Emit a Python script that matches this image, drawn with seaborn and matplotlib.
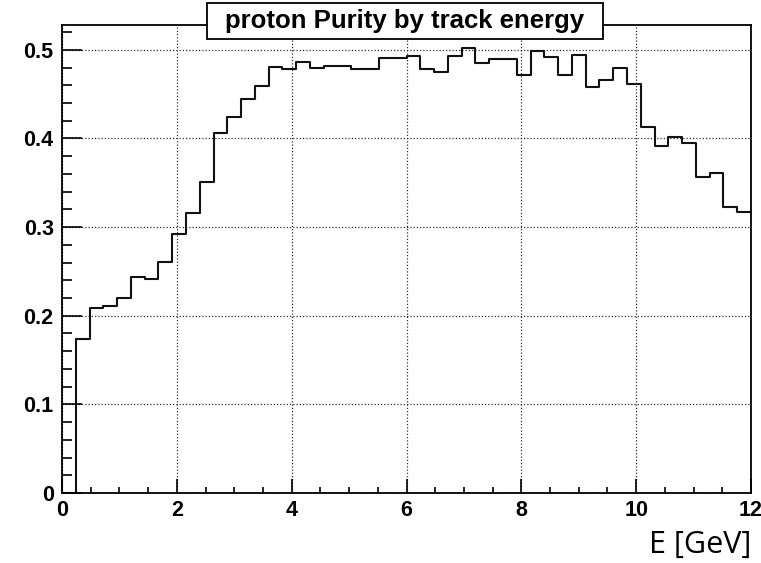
import numpy as np
import pandas as pd
import matplotlib
matplotlib.use("Agg")
import matplotlib.pyplot as plt
from matplotlib.patches import Rectangle
from matplotlib.ticker import MultipleLocator, FuncFormatter
import seaborn as sns

# ---- data (50 bins of width 0.24 from 0 to 12) ----
bin_edges = [round(0.24 * i, 2) for i in range(51)]
purity = [
    0.000, 0.174, 0.209, 0.211, 0.220, 0.244, 0.241, 0.261, 0.292, 0.316,
    0.351, 0.406, 0.424, 0.445, 0.459, 0.481, 0.4785, 0.486, 0.480, 0.4815,
    0.4815, 0.4785, 0.4785, 0.491, 0.491, 0.4928, 0.478, 0.4748, 0.4925, 0.5023,
    0.485, 0.4898, 0.4898, 0.472, 0.4985, 0.4915, 0.4718, 0.494, 0.458, 0.4654,
    0.479, 0.4616, 0.413, 0.392, 0.402, 0.3947, 0.357, 0.3615, 0.3225, 0.3168,
]
title = "proton Purity by track energy"
xlabel = "E [GeV]"
x_ticks = [0, 2, 4, 6, 8, 10, 12]
y_ticks = [0, 0.1, 0.2, 0.3, 0.4, 0.5]

edges = np.array(bin_edges)
centers = (edges[:-1] + edges[1:]) / 2
df = pd.DataFrame({"E": centers, "purity": purity})

sns.set_theme(style="white")
plt.rcParams["font.family"] = ["Liberation Sans", "DejaVu Sans"]
for k in ["text.color", "axes.labelcolor", "xtick.color", "ytick.color", "axes.edgecolor"]:
    plt.rcParams[k] = "black"

W, H = 761, 563
fig = plt.figure(figsize=(W / 100, H / 100), dpi=100)
L, R, T, B = 62, 751, 25, 493
ax = fig.add_axes([L / W, 1 - B / H, (R - L) / W, (B - T) / H])

sns.histplot(data=df, x="E", weights="purity", bins=bin_edges,
             element="step", fill=False, color="#111111", linewidth=1.5, ax=ax)

ax.set_xlim(0, 12)
ax.set_ylim(0, 0.528)
ax.set_xlabel("")
ax.set_ylabel("")

ax.set_xticks(x_ticks)
ax.set_yticks(y_ticks)
ax.xaxis.set_minor_locator(MultipleLocator(0.5))
ax.yaxis.set_minor_locator(MultipleLocator(0.02))
ax.yaxis.set_major_formatter(FuncFormatter(lambda v, p: "0" if abs(v) < 1e-9 else f"{v:.1f}"))
ax.xaxis.set_major_formatter(FuncFormatter(lambda v, p: f"{v:g}"))

ax.tick_params(axis="x", which="major", direction="in", length=10, width=1.2,
               bottom=True, top=False, labelsize=15.5, pad=5, colors="black")
ax.tick_params(axis="x", which="minor", direction="in", length=4.5, width=1.2,
               bottom=True, top=False, colors="black")
ax.tick_params(axis="y", which="major", direction="in", length=14.5, width=1.2,
               left=True, right=False, labelsize=15.5, pad=6, colors="black")
ax.tick_params(axis="y", which="minor", direction="in", length=7.5, width=1.2,
               left=True, right=False, colors="black")
for lab in ax.get_xticklabels() + ax.get_yticklabels():
    lab.set_fontweight("bold")

ax.grid(True, which="major", linestyle=(0, (1, 1.6)), color="#333333", linewidth=0.9)
for s in ax.spines.values():
    s.set_visible(True)
    s.set_color("black")
    s.set_linewidth(1.3)

# title box
bx0, bx1, by0, by1 = 207, 603, 3, 39
fig.patches.append(Rectangle((bx0 / W, 1 - by1 / H), (bx1 - bx0) / W, (by1 - by0) / H,
                             transform=fig.transFigure, facecolor="white",
                             edgecolor="black", linewidth=1.3, zorder=10))
fig.text((bx0 + bx1) / 2 / W, 1 - (by0 + by1) / 2 / H, title, ha="center", va="center",
         fontsize=18.5, fontweight="bold", color="black", zorder=11)

fig.text(R / W, 1 - 545 / H, xlabel, ha="right", va="center", fontsize=22,
         color="black", family=["Open Sans", "DejaVu Sans"])

fig.savefig("out.png", dpi=100, facecolor="white")
